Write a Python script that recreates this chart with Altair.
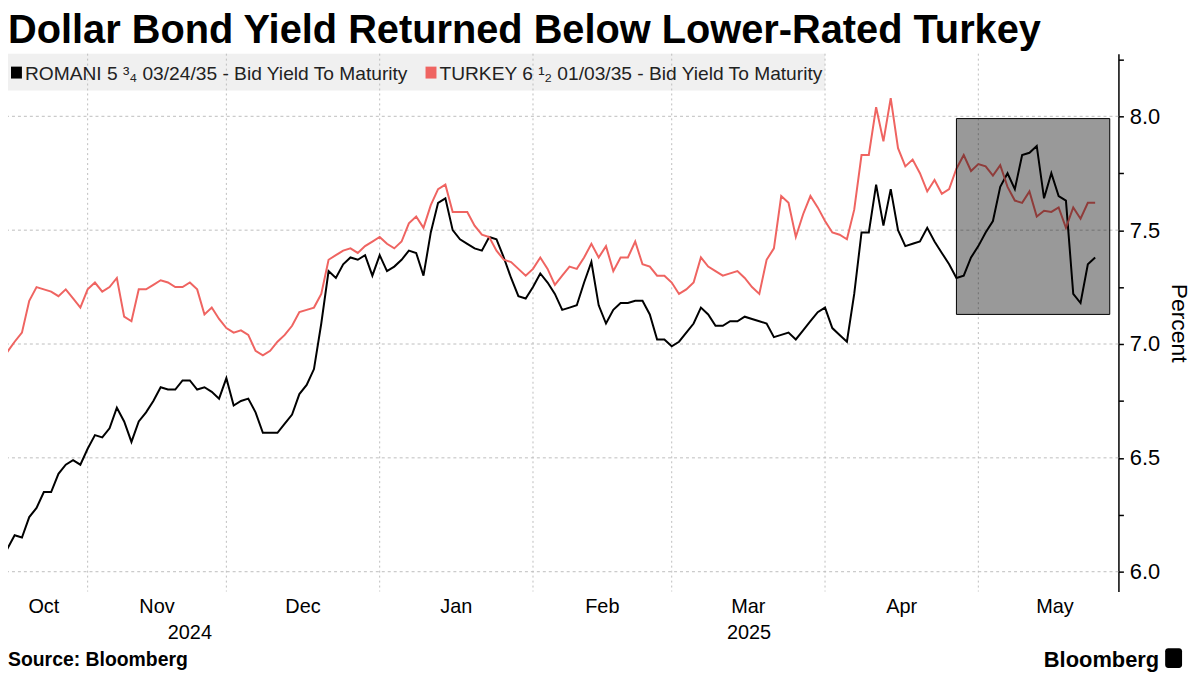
import altair as alt
import pandas as pd

# ---------------- data ----------------
title_text = "Dollar Bond Yield Returned Below Lower-Rated Turkey"
series_names = [
    "ROMANI 5 \u00b3\u2084 03/24/35 - Bid Yield To Maturity",
    "TURKEY 6 \u00b9\u2082 01/03/35 - Bid Yield To Maturity",
]
series_colors = ["#000000", "#ef6461"]

start_date = "2024-10-16"
end_date = "2025-05-23"
holidays = ["2024-11-11", "2024-11-28", "2024-12-25", "2025-01-01",
            "2025-01-20", "2025-02-17", "2025-04-18"]

romania = [
    6.13, 6.10, 6.16, 6.15, 6.24, 6.28, 6.35, 6.35, 6.43, 6.47,
    6.49, 6.47, 6.54, 6.60, 6.59, 6.63, 6.72, 6.66, 6.57, 6.66,
    6.70, 6.75, 6.81, 6.80, 6.80, 6.84, 6.84, 6.80, 6.81, 6.79,
    6.76, 6.85, 6.73, 6.75, 6.76, 6.70, 6.61, 6.61, 6.61, 6.65,
    6.69, 6.78, 6.82, 6.89, 7.09, 7.32, 7.29, 7.35, 7.38, 7.37,
    7.39, 7.30, 7.39, 7.32, 7.34, 7.37, 7.41, 7.40, 7.30, 7.49,
    7.62, 7.64, 7.50, 7.46, 7.44, 7.42, 7.41, 7.47, 7.46, 7.38,
    7.29, 7.21, 7.20, 7.25, 7.31, 7.27, 7.22, 7.15, 7.16, 7.17,
    7.27, 7.36, 7.17, 7.09, 7.15, 7.18, 7.18, 7.19, 7.19, 7.13,
    7.02, 7.02, 6.99, 7.01, 7.05, 7.09, 7.16, 7.13, 7.08, 7.08,
    7.10, 7.10, 7.12, 7.11, 7.10, 7.09, 7.03, 7.04, 7.05, 7.02,
    7.06, 7.10, 7.14, 7.16, 7.07, 7.04, 7.01, 7.22, 7.49, 7.49,
    7.70, 7.52, 7.68, 7.50, 7.43, 7.44, 7.45, 7.51, 7.45, 7.40,
    7.35, 7.29, 7.30, 7.38, 7.43, 7.49, 7.54, 7.69, 7.75, 7.68,
    7.83, 7.84, 7.87, 7.64, 7.75, 7.65, 7.63, 7.22, 7.18, 7.35,
    7.38,
]

turkey = [
    6.98, 6.965, 7.01, 7.05, 7.19, 7.25, 7.24, 7.23, 7.21, 7.24,
    7.20, 7.16, 7.24, 7.27, 7.23, 7.25, 7.29, 7.12, 7.10, 7.24,
    7.24, 7.26, 7.28, 7.27, 7.25, 7.25, 7.27, 7.24, 7.13, 7.16,
    7.11, 7.07, 7.05, 7.06, 7.04, 6.97, 6.95, 6.97, 7.01, 7.04,
    7.08, 7.14, 7.15, 7.16, 7.22, 7.37, 7.39, 7.41, 7.42, 7.40,
    7.43, 7.45, 7.47, 7.44, 7.42, 7.45, 7.53, 7.56, 7.51, 7.61,
    7.68, 7.70, 7.58, 7.58, 7.58, 7.52, 7.48, 7.47, 7.41, 7.37,
    7.36, 7.33, 7.30, 7.33, 7.38, 7.33, 7.26, 7.30, 7.34, 7.33,
    7.38, 7.44, 7.38, 7.43, 7.32, 7.38, 7.38, 7.45, 7.35, 7.34,
    7.30, 7.30, 7.27, 7.22, 7.24, 7.27, 7.38, 7.34, 7.32, 7.30,
    7.31, 7.32, 7.29, 7.25, 7.22, 7.37, 7.42, 7.65, 7.62, 7.47,
    7.57, 7.65, 7.60, 7.54, 7.49, 7.48, 7.46, 7.59, 7.83, 7.83,
    8.04, 7.89, 8.08, 7.86, 7.78, 7.81, 7.75, 7.67, 7.72, 7.66,
    7.68, 7.77, 7.83, 7.76, 7.79, 7.78, 7.74, 7.785, 7.69, 7.63,
    7.62, 7.67, 7.56, 7.585, 7.58, 7.60, 7.51, 7.60, 7.55, 7.62,
    7.62,
]

y_ticks = [6.0, 6.25, 6.5, 6.75, 7.0, 7.25, 7.5, 7.75, 8.0, 8.25]
grid_values = [6.0, 6.5, 7.0, 7.5, 8.0]
y_domain = [5.913, 8.275]
x_domain = [1.09, 153.19]
last_month_end = 155.0
highlight_x = [131.0, 152.0]
highlight_y = [7.13, 7.99]
source_text = "Source: Bloomberg"
brand_text = "Bloomberg"

FONT = "Liberation Sans"

# ---------------- frames ----------------
dates = [d for d in pd.bdate_range(start_date, end_date)
         if d.strftime("%Y-%m-%d") not in holidays]
n = min(len(dates), len(romania), len(turkey))
dates = dates[:n]

rows = []
for name, vals in zip(series_names, [romania, turkey]):
    for i in range(n):
        rows.append({"idx": i, "date": dates[i].strftime("%Y-%m-%d"),
                     "value": vals[i], "series": name})
df = pd.DataFrame(rows)

starts = []
prev = None
for i, d in enumerate(dates):
    key = (d.year, d.month)
    if key != prev:
        starts.append((i, d))
        prev = key
month_rows = []
for k, (i, d) in enumerate(starts):
    nxt = starts[k + 1][0] if k + 1 < len(starts) else last_month_end
    month_rows.append({"idx": (i + nxt) / 2.0, "label": d.strftime("%b")})
months_df = pd.DataFrame(month_rows)
vgrid_df = pd.DataFrame({"idx": [i for i, d in starts if i > x_domain[0]]})

year_rows = []
years = sorted(set(d.year for d in dates))
for y in years:
    idxs = [i for i, d in enumerate(dates) if d.year == y]
    lo = max(idxs[0], 0)
    hi = idxs[-1] + 1 if y != years[-1] else x_domain[1]
    year_rows.append({"idx": (lo + hi) / 2.0, "label": str(y)})
years_df = pd.DataFrame(year_rows)

hgrid_df = pd.DataFrame({"value": grid_values})
hl_df = pd.DataFrame({"x": [highlight_x[0]], "x2": [highlight_x[1]],
                      "value": [highlight_y[0]], "value2": [highlight_y[1]]})

xs = alt.Scale(domain=x_domain, nice=False, zero=False)
ys = alt.Scale(domain=y_domain, nice=False, zero=False)

y_axis = alt.Axis(
    orient="right", values=y_ticks, grid=False,
    labelExpr="abs(datum.value*2 - round(datum.value*2)) < 0.01 ? format(datum.value, '.1f') : ''",
    domainColor="black", domainWidth=1.5, tickColor="black", tickSize=5, tickWidth=1.5,
    labelFont=FONT, labelFontSize=22, labelColor="black", labelPadding=6,
    title="Percent", titleFont=FONT, titleFontSize=23, titleFontWeight="normal",
    titleColor="black", titlePadding=7)

W, H = 1117, 541
one = pd.DataFrame({"k": [0]})

# ---------------- layers ----------------
legend_bg = alt.Chart(one).mark_rect(color="#f0f0f0").encode(
    x=alt.value(0), x2=alt.value(822), y=alt.value(0), y2=alt.value(37))

vgrid = alt.Chart(vgrid_df).mark_rule(color="#bdbdbd", strokeDash=[2, 3], strokeWidth=1).encode(
    x=alt.X("idx:Q", scale=xs, axis=None))

hgrid = alt.Chart(hgrid_df).mark_rule(color="#bdbdbd", strokeDash=[3, 3], strokeWidth=1).encode(
    y=alt.Y("value:Q", scale=ys, axis=y_axis))

lines = alt.Chart(df).mark_line(strokeWidth=2, clip=True).encode(
    x=alt.X("idx:Q", scale=xs, axis=None),
    y=alt.Y("value:Q", scale=ys, axis=y_axis),
    color=alt.Color("series:N", scale=alt.Scale(domain=series_names, range=series_colors), legend=None),
    detail="series:N",
)

highlight = alt.Chart(hl_df).mark_rect(color="black", fillOpacity=0.4, stroke="black",
                                       strokeWidth=1, strokeOpacity=1).encode(
    x=alt.X("x:Q", scale=xs, axis=None), x2="x2:Q",
    y=alt.Y("value:Q", scale=ys, axis=y_axis), y2="value2:Q")

leg_sq1 = alt.Chart(one).mark_rect(color=series_colors[0]).encode(
    x=alt.value(3), x2=alt.value(14), y=alt.value(13), y2=alt.value(25))
leg_sq2 = alt.Chart(one).mark_rect(color=series_colors[1]).encode(
    x=alt.value(420), x2=alt.value(431), y=alt.value(13), y2=alt.value(25))
leg_t1 = alt.Chart(pd.DataFrame({"t": [series_names[0]]})).mark_text(
    align="left", baseline="alphabetic", font=FONT, fontSize=19.3, color="#222").encode(
    x=alt.value(17), y=alt.value(26), text="t:N")
leg_t2 = alt.Chart(pd.DataFrame({"t": [series_names[1]]})).mark_text(
    align="left", baseline="alphabetic", font=FONT, fontSize=19.3, color="#222").encode(
    x=alt.value(434), y=alt.value(26), text="t:N")

title = alt.Chart(pd.DataFrame({"t": [title_text]})).mark_text(
    align="left", baseline="alphabetic", font=FONT, fontSize=40, fontWeight="bold", color="black").encode(
    x=alt.value(0), y=alt.value(-11), text="t:N")

month_lbl = alt.Chart(months_df).transform_filter(
    f"datum.idx > {x_domain[0]} && datum.idx < {x_domain[1]}").mark_text(
    baseline="middle", font=FONT, fontSize=20, color="black").encode(
    x=alt.X("idx:Q", scale=xs, axis=None), y=alt.value(H + 16), text="label:N")

year_lbl = alt.Chart(years_df).mark_text(
    baseline="middle", font=FONT, fontSize=20, color="black").encode(
    x=alt.X("idx:Q", scale=xs, axis=None), y=alt.value(H + 42), text="label:N")

source = alt.Chart(pd.DataFrame({"t": [source_text]})).mark_text(
    align="left", baseline="alphabetic", font=FONT, fontSize=19.5, fontWeight="bold", color="black").encode(
    x=alt.value(0), y=alt.value(H + 75), text="t:N")

brand = alt.Chart(pd.DataFrame({"t": [brand_text]})).mark_text(
    align="right", baseline="alphabetic", font=FONT, fontSize=22, fontWeight="bold", color="black").encode(
    x=alt.value(1158), y=alt.value(H + 76), text="t:N")

brand_icon = alt.Chart(one).mark_rect(color="black", cornerRadius=3).encode(
    x=alt.value(1164), x2=alt.value(1181), y=alt.value(H + 57), y2=alt.value(H + 77))

chart = alt.layer(
    legend_bg, vgrid, hgrid, lines, highlight,
    leg_sq1, leg_sq2, leg_t1, leg_t2,
    title, month_lbl, year_lbl, source, brand, brand_icon,
).properties(
    width=W, height=H,
    padding={"left": 0, "top": 44, "right": 74, "bottom": 80},
    autosize=alt.AutoSizeParams(type="none"),
    background="white",
).configure_view(stroke=None)

chart.save("out.html", embed_options={"renderer": "svg", "actions": False})
